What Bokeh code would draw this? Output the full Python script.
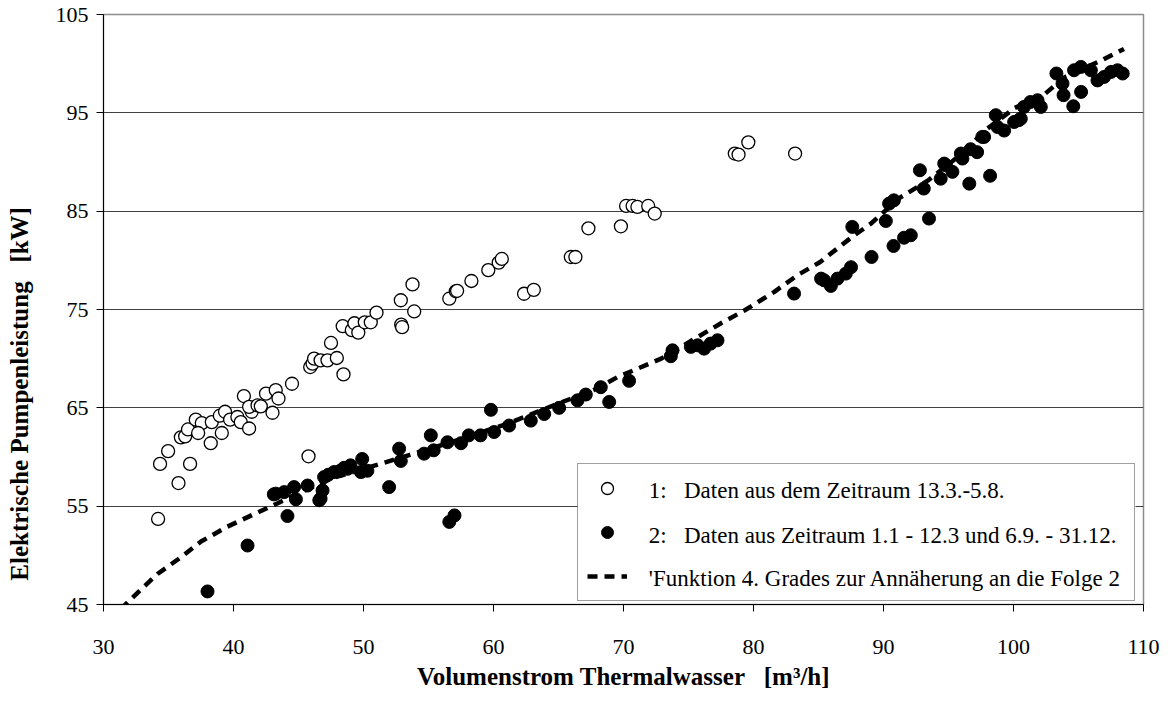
from bokeh.plotting import figure
from bokeh.models import Range1d, FixedTicker, Legend, LegendItem, BoxAnnotation
from bokeh.core.properties import value
from bokeh.embed import file_html
from bokeh.resources import INLINE

# Series 1: open circles (13.3.-5.8.)
s1_x = [34.2, 34.35, 34.97, 35.77, 36.66, 35.95, 36.28, 36.5, 37.1, 37.56, 37.28, 38.25, 38.33,
        38.95, 39.1, 39.35, 39.74, 40.3, 40.56, 40.8, 41.2, 41.4, 41.2, 41.85, 42.1, 42.5, 43.0,
        43.25, 43.46, 44.5, 45.77, 45.9, 46.08, 46.2, 46.7, 47.23, 47.95, 47.5, 48.46, 48.4,
        49.1, 49.3, 49.6, 50.1, 50.56, 51.0, 52.87, 52.9, 52.97, 53.9, 53.77, 56.6, 57.1, 57.2,
        58.3, 59.6, 60.4, 60.64, 62.35, 63.1, 65.95, 66.3, 67.3, 69.8, 70.2, 70.7, 71.07,
        71.9, 72.4, 78.56, 78.85, 79.6, 83.2]
s1_y = [53.7, 59.3, 60.6, 57.35, 59.3, 62.0, 62.1, 62.8, 63.8, 63.45, 62.44, 61.4, 63.55,
        64.2, 62.44, 64.6, 63.8, 64.07, 63.55, 66.2, 62.9, 64.6, 65.1, 65.25, 65.15, 66.45, 64.5,
        66.8, 65.95, 67.45, 60.07, 69.15, 69.5, 70.0, 69.83, 69.83, 70.07, 71.6, 68.4, 73.3,
        72.9, 73.6, 72.65, 73.7, 73.7, 74.68, 75.94, 73.46, 73.2, 74.8, 77.55, 76.1, 76.85, 76.9,
        77.9, 79.0, 79.77, 80.14, 76.6, 77.0, 80.34, 80.34, 83.26, 83.46, 85.53, 85.53, 85.43,
        85.53, 84.76, 90.86, 90.76, 92.0, 90.86]

# Series 2: filled circles (1.1-12.3 und 6.9.-31.12.)
s2_x = [38.0, 41.08, 43.1, 43.25, 43.9, 44.15, 44.66, 44.8, 45.7, 46.6, 46.7, 46.85, 46.97,
        47.3, 47.74, 48.2, 48.5, 48.77, 49.0, 49.8, 49.9, 50.3, 51.97, 52.74, 52.87, 54.66,
        55.18, 55.4, 56.46, 56.6, 57.0, 57.5, 58.1, 59.0, 59.8, 60.05, 61.2, 62.87, 63.9,
        65.05, 66.46, 67.1, 68.25, 68.9, 70.43, 73.64, 73.77, 75.18, 75.7, 76.2, 76.7, 77.23,
        83.12, 85.2, 85.43, 85.95, 86.46, 87.1, 87.5, 87.6, 89.08, 90.18, 90.43, 90.77, 90.8,
        91.58, 92.1, 92.8, 93.1, 93.5, 94.4, 94.67, 94.8, 95.3, 95.95, 96.07, 96.6, 96.7,
        97.2, 97.6, 97.74, 98.2, 98.64, 98.77, 99.28, 100.05, 100.4, 100.56, 100.8, 101.3,
        101.85, 102.1, 103.3, 103.77, 103.85, 104.6, 104.66, 105.18, 105.2, 105.95, 106.46,
        106.97, 107.5, 108.0, 108.4]
s2_y = [46.33, 51.0, 56.2, 56.27, 56.43, 54.0, 56.94, 55.7, 57.1, 55.6, 55.76, 56.6, 57.96,
        58.2, 58.47, 58.6, 58.9, 58.8, 59.15, 58.47, 59.8, 58.6, 56.94, 60.85, 59.6, 60.34,
        62.2, 60.68, 61.5, 53.4, 54.06, 61.4, 62.2, 62.2, 64.8, 62.54, 63.2, 63.7, 64.37,
        65.0, 65.76, 66.35, 67.1, 65.6, 67.75, 70.25, 70.85, 71.2, 71.36, 71.02, 71.53, 71.87,
        76.62, 78.14, 77.97, 77.4, 78.14, 78.65, 79.3, 83.4, 80.34, 84.0, 85.77, 81.46, 86.1,
        82.3, 82.55, 89.16, 87.3, 84.25, 88.3, 89.84, 89.67, 89.0, 90.86, 90.35, 87.8, 91.3,
        91.0, 92.55, 92.55, 88.6, 94.76, 93.56, 93.2, 94.07, 94.25, 94.4, 95.6, 96.1,
        96.28, 95.6, 99.0, 97.98, 96.8, 95.67, 99.33, 99.67, 97.13, 99.33, 98.3,
        98.65, 99.16, 99.33, 99.0]

# Polynomial (4th degree) approximation curve
fit_x = [31.3, 33.1, 34.15, 35.95, 37.5, 39.5, 41.6, 43.4, 45.5, 47.5, 49.5, 51.3, 53.5,
         56.5, 58.8, 61.1, 64.9, 67.7, 69.5, 72.9, 75.7, 77.5, 79.3, 81.6, 83.4, 85.1, 87.6,
         89.0, 91.3, 93.4, 95.7, 98.0, 100.1, 102.4, 103.9, 106.7, 108.5]
fit_y = [44.5, 46.8, 48.1, 49.8, 51.4, 52.9, 54.2, 55.3, 56.6, 57.8, 58.6, 59.3, 60.2,
         61.4, 62.4, 63.4, 65.4, 66.8, 68.1, 70.0, 72.2, 73.6, 74.9, 76.8, 78.5, 79.8, 82.4,
         83.7, 86.4, 88.1, 90.5, 93.4, 95.5, 96.9, 98.6, 100.3, 101.5]

x_ticks = [30, 40, 50, 60, 70, 80, 90, 100, 110]
y_ticks = [45, 55, 65, 75, 85, 95, 105]

labels = ["1:\u00a0\u00a0\u00a0Daten aus dem Zeitraum 13.3.-5.8.",
          "2:\u00a0\u00a0\u00a0Daten aus Zeitraum 1.1 - 12.3 und 6.9. - 31.12.",
          "'Funktion 4. Grades zur Ann\u00e4herung an die Folge 2"]
x_title = "Volumenstrom Thermalwasser\u00a0\u00a0\u00a0[m\u00b3/h]"
y_title = "Elektrische Pumpenleistung\u00a0\u00a0\u00a0[kW]"

FONT = "Liberation Serif"
NB = "\u00a0"

p = figure(width=1170, height=706, output_backend="svg", toolbar_location=None,
           x_range=Range1d(30, 110), y_range=Range1d(45, 105),
           min_border_left=103, min_border_right=27, min_border_top=14, min_border_bottom=102)
p.background_fill_color = "white"
p.border_fill_color = "white"
p.outline_line_color = "#8c8c8c"
p.outline_line_width = 1.5

p.xgrid.visible = False
p.ygrid.ticker = FixedTicker(ticks=y_ticks)
p.ygrid.grid_line_color = "#404040"
p.ygrid.grid_line_width = 1

for ax in (p.xaxis[0], p.yaxis[0]):
    ax.axis_line_color = "black"
    ax.major_tick_line_color = "black"
    ax.major_tick_in = 0
    ax.major_tick_out = 7
    ax.minor_tick_line_color = None
    ax.major_label_text_font = FONT
    ax.major_label_text_font_size = "22px"
    ax.major_label_text_color = "black"
    ax.axis_label_text_font = FONT
    ax.axis_label_text_font_size = "25px"
    ax.axis_label_text_font_style = "bold"
    ax.axis_label_text_color = "black"

p.xaxis.ticker = FixedTicker(ticks=x_ticks)
p.yaxis.ticker = FixedTicker(ticks=y_ticks)
p.xaxis.major_label_standoff = 28
p.yaxis.major_label_standoff = 8
p.xaxis.axis_label_standoff = 6
p.yaxis.axis_label_standoff = 20
p.xaxis.axis_label = x_title
# trailing non-breaking spaces shift the (rotated) title downwards as in the original
p.yaxis.axis_label = y_title + NB * 27

# white panel behind the legend (hides the grid line there, like the original)
p.add_layout(BoxAnnotation(left=474, right=1032, bottom=3, top=138,
                           left_units="screen", right_units="screen",
                           bottom_units="screen", top_units="screen",
                           fill_color="white", fill_alpha=1.0, line_color=None,
                           level="underlay"))

r_fit = p.line(fit_x, fit_y, line_color="black", line_width=4.5, line_dash="10 7")
r2 = p.scatter(s2_x, s2_y, size=13, marker="circle", fill_color="black", line_color="black")
r1 = p.scatter(s1_x, s1_y, size=13, marker="circle", fill_color="white", line_color="black",
               line_width=1.3)

# legend texts (serif)
leg_text_x = [71.95, 71.95, 71.95]
leg_text_y = [56.6, 52.0, 47.65]
p.text(x=leg_text_x, y=leg_text_y, text=labels, text_font=value(FONT),
       text_font_size="23px", text_color="black", text_baseline="middle",
       text_align="left")

legend = Legend(items=[LegendItem(label=NB, renderers=[r1]),
                       LegendItem(label=NB, renderers=[r2]),
                       LegendItem(label=NB, renderers=[r_fit])],
                location=(474, 3), orientation="vertical",
                label_text_font=FONT, label_text_font_size="23px",
                glyph_width=40, glyph_height=30, label_height=20, label_width=477,
                label_standoff=21, spacing=14, padding=9, margin=0,
                border_line_color="#404040", border_line_width=1.3,
                background_fill_alpha=0.0)
p.add_layout(legend, "center")

open("out.html", "w").write(file_html(p, INLINE))
